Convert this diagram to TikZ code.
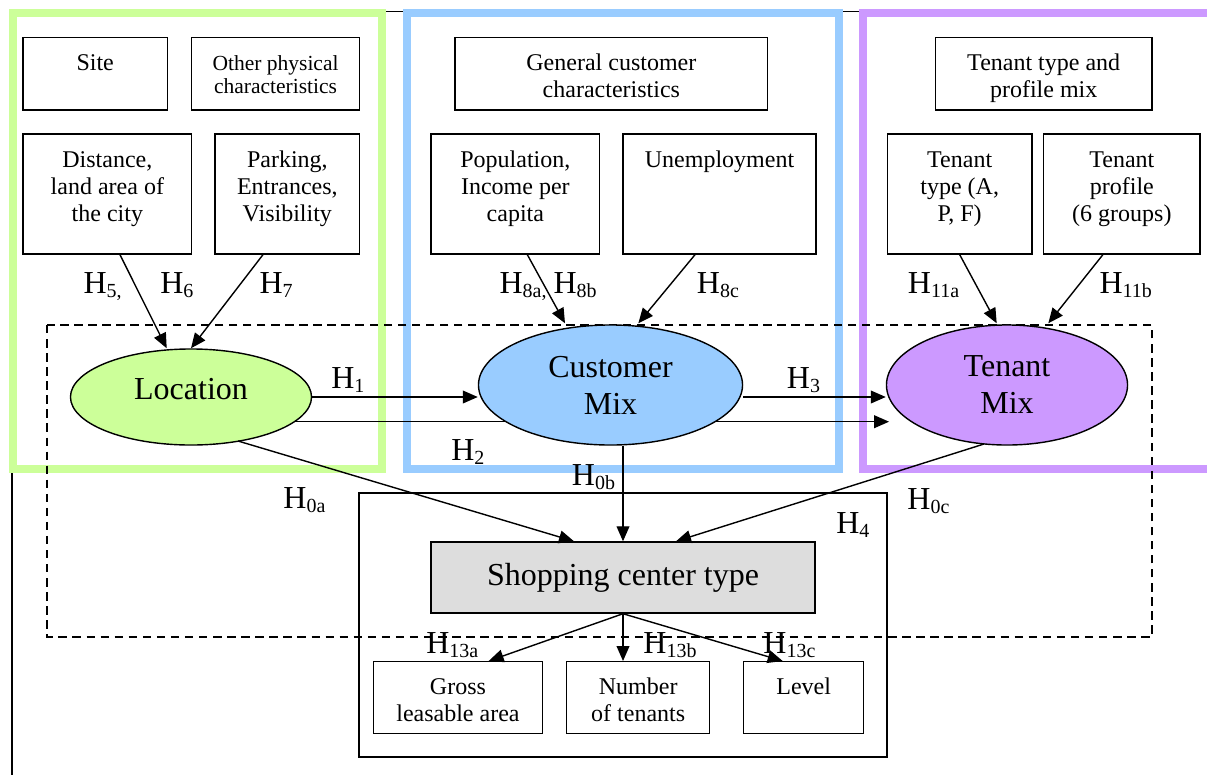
\documentclass[tikz,border=0pt]{standalone}
\usepackage{fontspec}
\setmainfont{Liberation Serif}
\usetikzlibrary{arrows.meta,calc,shapes.geometric}
\definecolor{lgreen}{RGB}{204,255,153}
\definecolor{lblue}{RGB}{153,204,255}
\definecolor{lpurple}{RGB}{204,153,255}
\definecolor{lgray}{RGB}{221,221,221}
\newlength{\pxu}\setlength{\pxu}{0.025cm}
\newcommand{\cell}[3]{\parbox[t][#2\pxu][t]{#1\pxu}{\centering\rule{0pt}{33\pxu}#3}}
\newcommand{\hyp}[1]{H\raisebox{-4\pxu}{\fontsize{14.2pt}{14.2pt}\selectfont #1}}
\begin{document}
\begin{tikzpicture}[x=0.025cm, y=-0.025cm,
    grpframe/.style={line width=5.3pt},
    box/.style={draw, line width=1pt, inner sep=0pt, anchor=north west, font=\fontsize{17.07pt}{19.2pt}\selectfont},
    oval/.style={ellipse, draw, line width=1pt, inner sep=0pt, align=center, font=\fontsize{22.76pt}{26.3pt}\selectfont},
    arr/.style={-{Triangle[length=0.375cm,width=0.32cm]}, line width=1pt},
    hlab/.style={anchor=base west, inner sep=0pt, font=\fontsize{22.76pt}{26.3pt}\selectfont}]
  \useasboundingbox (0,0) rectangle (1207,775);
  \draw[line width=1.1pt] (382,11.5) -- (863,11.5);
  \draw[line width=1.1pt] (12,472) -- (12,775);
  \draw[grpframe, lgreen] (13,13) rectangle (382,469);
  \draw[grpframe, lblue] (407,13) rectangle (839,469);
  \draw[grpframe, lpurple] (863,13) rectangle (1230,469);
  \draw[line width=0.8pt, dash pattern=on 6pt off 4pt] (47,325) rectangle (1152,637);
  \draw[line width=1pt] (359,493) rectangle (887,757);

  \node[box] (site) at (22.3,36.7) {\cell{144.4}{72.6}{Site}};
  \node[box, font=\fontsize{15.3pt}{16.7pt}\selectfont] (other) at (190.7,36.7) {\cell{168.3}{72.6}{Other physical\\characteristics}};
  \node[box] (dist) at (22.3,133.3) {\cell{168.7}{120}{Distance,\\land area of\\the city}};
  \node[box] (park) at (214.3,133.3) {\cell{144.7}{120}{Parking,\\Entrances,\\Visibility}};
  \node[box] (gen) at (454.3,36.7) {\cell{312.7}{72.6}{General customer\\characteristics}};
  \node[box] (pop) at (430.3,133.3) {\cell{168.7}{120}{Population,\\Income per\\capita}};
  \node[box] (unemp) at (622.3,133.3) {\cell{193}{120}{Unemployment}};
  \node[box] (tmixprof) at (934.7,36.7) {\cell{216.6}{72.6}{Tenant type and\\profile mix}};
  \node[box] (ttype) at (886.7,133.3) {\cell{144.6}{120}{Tenant\\type (A,\\P, F)}};
  \node[box] (tprof) at (1043,133.3) {\cell{156.3}{120}{Tenant\\profile\\(6 groups)}};

  \node[oval, fill=lgreen, minimum width=6.025cm, minimum height=2.4cm, text depth=0.4cm] (loc) at (191,397) {Location};
  \node[oval, fill=lpurple, minimum width=6.025cm, minimum height=3cm] (tmix) at (1007,385) {Tenant\\Mix};
  \draw[arr] ($(loc.center)+(103,24.7)$) -- ($(tmix.west)+(3.3,36.7)$);
  \node[oval, fill=lblue, minimum width=6.6cm, minimum height=3cm] (cmix) at (610.5,385) {Customer\\Mix};
  \node[box, anchor=center, fill=lgray, minimum width=9.6cm, minimum height=1.775cm, font=\fontsize{22.76pt}{26.3pt}\selectfont] (sct) at (623,577.5) {Shopping center type};
  \node[box] (gla) at (373,661) {\cell{168.5}{72}{Gross\\leasable area}};
  \node[box] (ntn) at (566,661) {\cell{143}{72}{Number\\of tenants}};
  \node[box] (lvl) at (743,661) {\cell{120}{72}{Level}};

  \draw[arr] ($(dist.south)+(12.6,0)$) -- ($(loc.north)+(-24.3,0)$);
  \draw[arr] ($(park.south)+(-24.4,0)$) -- (loc.north);
  \draw[arr] ($(pop.south)+(12,0)$) -- ($(cmix.north)+(-45.5,-1)$);
  \draw[arr] ($(unemp.south)+(-24.5,0)$) -- ($(cmix.north)+(27.8,-1)$);
  \draw[arr] (ttype.south) -- ($(tmix.north)+(-10.3,-1)$);
  \draw[arr] ($(tprof.south)+(-19,0)$) -- ($(tmix.north)+(41.3,-1)$);
  \draw[arr] (loc.east) -- ($(cmix.west)+(0,12)$);
  \draw[arr] ($(cmix.east)+(0,12)$) -- ($(tmix.west)+(0,12)$);
  \draw[arr] ($(loc.center)+(47,44)$) -- ($(sct.north)+(-49,0)$);
  \draw[arr] (sct.north |- cmix.south) -- (sct.north);
  \draw[arr] ($(tmix.center)+(-23,59)$) -- ($(sct.north)+(53,0)$);
  \draw[arr] (sct.south) -- ($(gla.north)+(30.7,0)$);
  \draw[arr] (sct.south) -- (sct.south |- ntn.north);
  \draw[arr] (sct.south) -- ($(lvl.north)+(-21,0)$);

  \node[hlab] (h5) at (83.3,293.3) {\hyp{5,}};
  \node[hlab] (h6) at (160,293.3) {\hyp{6}};
  \node[hlab] (h7) at (259.3,293.3) {\hyp{7}};
  \node[hlab] (h8a) at (499.3,293.3) {\hyp{8a,}};
  \node[hlab] (h8b) at (553.3,293.3) {\hyp{8b}};
  \node[hlab] (h8c) at (696.7,293.3) {\hyp{8c}};
  \node[hlab] (h11a) at (907.7,293.3) {\hyp{11a}};
  \node[hlab] (h11b) at (1099.3,293.3) {\hyp{11b}};
  \node[hlab] (h1) at (331,388.3) {\hyp{1}};
  \node[hlab] (h3) at (786.7,388.3) {\hyp{3}};
  \node[hlab] (h2) at (451,460) {\hyp{2}};
  \node[hlab] (h0a) at (283.2,508.3) {\hyp{0a}};
  \node[hlab] (h0b) at (571.7,485) {\hyp{0b}};
  \node[hlab] (h0c) at (907.2,509.3) {\hyp{0c}};
  \node[hlab] (h4) at (836,533.3) {\hyp{4}};
  \node[hlab] (h13a) at (426,653.3) {\hyp{13a}};
  \node[hlab] (h13b) at (643.2,653.3) {\hyp{13b}};
  \node[hlab] (h13c) at (763.2,653.3) {\hyp{13c}};
\end{tikzpicture}
\end{document}
